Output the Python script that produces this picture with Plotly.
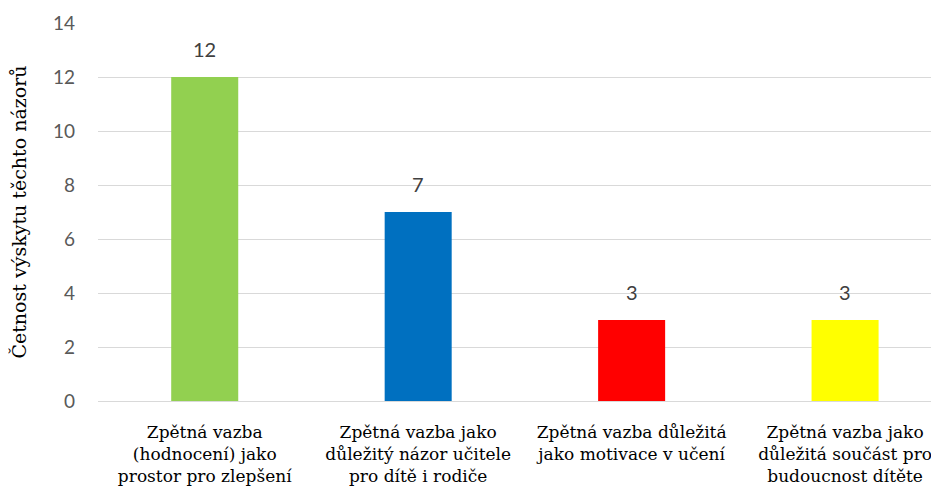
import plotly.graph_objects as go

categories = [
    "Zpětná vazba<br>(hodnocení) jako<br>prostor pro zlepšení",
    "Zpětná vazba jako<br>důležitý názor učitele<br>pro dítě i rodiče",
    "Zpětná vazba důležitá<br>jako motivace v učení",
    "Zpětná vazba jako<br>důležitá součást pro<br>budoucnost dítěte",
]
values = [12, 7, 3, 3]
colors = ["#92d050", "#0070c0", "#ff0000", "#ffff00"]
y_ticks = [0, 2, 4, 6, 8, 10, 12, 14]

SERIF = "DejaVu Serif"
SANS = "Lato"

x_pos = list(range(len(categories)))

fig = go.Figure(
    go.Bar(
        x=x_pos,
        y=values,
        marker=dict(color=colors, line=dict(width=0)),
        width=0.314,
        hoverinfo="skip",
    )
)

for xi, v in zip(x_pos, values):
    fig.add_annotation(
        x=xi, y=v, text=str(v), showarrow=False,
        yanchor="bottom", yshift=14,
        font=dict(family=SANS, size=20, color="#404040"),
    )

fig.update_layout(
    width=931,
    height=488,
    margin=dict(l=90, r=0, t=15, b=95),
    paper_bgcolor="white",
    plot_bgcolor="white",
    showlegend=False,
    xaxis=dict(
        tickmode="array",
        tickvals=x_pos,
        ticktext=categories,
        range=[-0.5, 3.44],
        tickangle=0,
        showgrid=False,
        zeroline=False,
        showline=False,
        ticks="",
        ticklabelstandoff=19,
        tickfont=dict(family=SERIF, size=17, color="#000000"),
        automargin=False,
    ),
    yaxis=dict(
        range=[0, 14],
        tickvals=y_ticks,
        showgrid=True,
        gridcolor="#d9d9d9",
        gridwidth=1,
        zeroline=True,
        zerolinecolor="#d9d9d9",
        zerolinewidth=1,
        showline=False,
        ticks="",
        ticklabelstandoff=22,
        tickfont=dict(family=SANS, size=19, color="#595959"),
        title=dict(
            text="Četnost výskytu těchto názorů",
            font=dict(family=SERIF, size=19, color="#000000"),
            standoff=22,
        ),
        automargin=False,
    ),
)

fig.write_html("out.html")
